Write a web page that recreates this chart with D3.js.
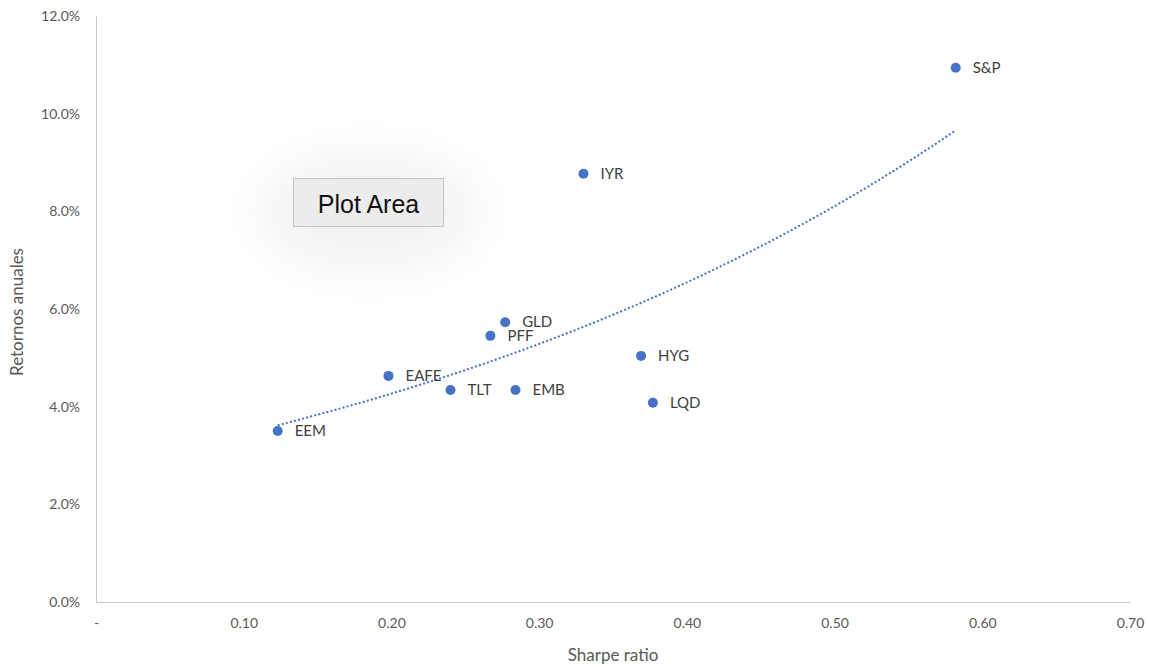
<!DOCTYPE html>
<html>
<head>
<meta charset="utf-8">
<script src="https://cdn.jsdelivr.net/npm/d3@7"></script>
<style>
  body { margin: 0; background: #fff; }
  svg { display: block; }
</style>
</head>
<body>
<svg id="chart" width="1149" height="667"></svg>
<script>
// Sharpe ratio vs. annual return per asset
const tickers = ["S&P", "IYR", "GLD", "PFF", "HYG", "EAFE", "TLT", "EMB", "LQD", "EEM"];
const sharpe  = [0.582, 0.330, 0.277, 0.267, 0.369, 0.198, 0.240, 0.284, 0.377, 0.123];
const returns = [0.1094, 0.0877, 0.0573, 0.0545, 0.0504, 0.0463, 0.0434, 0.0434, 0.0408, 0.0350];
const xTicks  = [0, 0.1, 0.2, 0.3, 0.4, 0.5, 0.6, 0.7];
const yTicks  = [0, 0.02, 0.04, 0.06, 0.08, 0.10, 0.12];

const svg = d3.select("#chart");
const font = "Lato, 'Open Sans', sans-serif";
const plot = { left: 96, right: 1130, top: 16, bottom: 602 };

const x = d3.scaleLinear().domain([0, 0.7]).range([plot.left, plot.right]);
const y = d3.scaleLinear().domain([0, 0.12]).range([plot.bottom, plot.top]);

// soft shadow behind the hover label
const defs = svg.append("defs");
const blur = defs.append("filter").attr("id", "glow")
  .attr("x", "-80%").attr("y", "-150%").attr("width", "260%").attr("height", "400%");
blur.append("feGaussianBlur").attr("stdDeviation", 26);

// axes
const xAxis = d3.axisBottom(x).tickValues(xTicks).tickSize(0).tickPadding(16)
  .tickFormat(d => d === 0 ? "-" : d3.format(".2f")(d));
const yAxis = d3.axisLeft(y).tickValues(yTicks).tickSize(0).tickPadding(16)
  .tickFormat(d3.format(".1%"));

const gx = svg.append("g").attr("transform", `translate(0,${plot.bottom})`).call(xAxis);
const gy = svg.append("g").attr("transform", `translate(${plot.left},0)`).call(yAxis);
[gx, gy].forEach(g => {
  g.select(".domain").attr("stroke", "#c8c8c8").attr("stroke-width", 1);
  g.selectAll("text").attr("fill", "#595959").attr("font-family", font).attr("font-size", 14);
});

// axis titles
svg.append("text").attr("x", 613).attr("y", 661)
  .attr("text-anchor", "middle").attr("fill", "#595959")
  .attr("font-family", font).attr("font-size", 17).text("Sharpe ratio");
svg.append("text").attr("transform", `translate(23,312) rotate(-90)`)
  .attr("text-anchor", "middle").attr("fill", "#595959")
  .attr("font-family", font).attr("font-size", 17).text("Retornos anuales");

// exponential trendline fitted by least squares on ln(return)
const lr = returns.map(Math.log);
const mx = d3.mean(sharpe), my = d3.mean(lr);
const b = d3.sum(sharpe, (v, i) => (v - mx) * (lr[i] - my)) / d3.sum(sharpe, v => (v - mx) ** 2);
const a = Math.exp(my - b * mx);
const [xmin, xmax] = d3.extent(sharpe);
const trend = d3.range(0, 101).map(i => {
  const xv = xmin + (xmax - xmin) * i / 100;
  return [xv, a * Math.exp(b * xv)];
});
svg.append("path").datum(trend)
  .attr("d", d3.line().x(d => x(d[0])).y(d => y(d[1])))
  .attr("fill", "none").attr("stroke", "#4472C4").attr("stroke-width", 2)
  .attr("stroke-dasharray", "2 2.2");

// points and labels
const pts = svg.append("g");
tickers.forEach((t, i) => {
  pts.append("circle").attr("cx", x(sharpe[i])).attr("cy", y(returns[i]))
    .attr("r", 5).attr("fill", "#4472C4");
  pts.append("text").attr("x", x(sharpe[i]) + 17).attr("y", y(returns[i]) + 5)
    .attr("fill", "#404040").attr("font-family", font).attr("font-size", 15).text(t);
});

// "Plot Area" hover label
const tip = svg.append("g");
tip.append("ellipse").attr("cx", 369).attr("cy", 212).attr("rx", 105).attr("ry", 52)
  .attr("fill", "#000").attr("opacity", 0.06).attr("filter", "url(#glow)");
tip.append("rect").attr("x", 293.5).attr("y", 178.5).attr("width", 150).attr("height", 48)
  .attr("fill", "#ececec").attr("stroke", "#c4c4c4").attr("stroke-width", 1);
tip.append("text").attr("x", 368.5).attr("y", 213).attr("text-anchor", "middle")
  .attr("fill", "#111").attr("font-family", "'Liberation Sans', Arial, sans-serif")
  .attr("font-size", 25).text("Plot Area");
</script>
</body>
</html>
